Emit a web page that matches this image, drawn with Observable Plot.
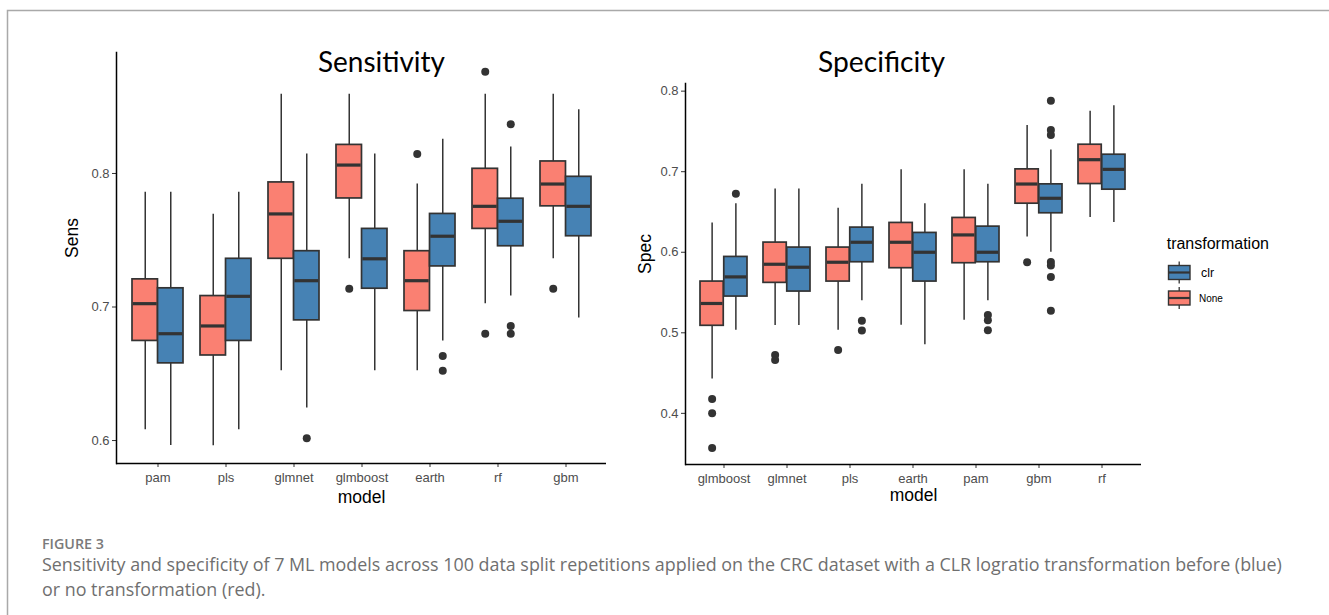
<!DOCTYPE html>
<html><head><meta charset="utf-8">
<script src="https://cdn.jsdelivr.net/npm/d3@7"></script>
<script src="https://cdn.jsdelivr.net/npm/@observablehq/plot@0.6"></script>
<style>
body{margin:0;background:#fff;}
#root{position:relative;width:1329px;height:615px;overflow:hidden;background:#fff;}
#root > svg, #root > figure{position:absolute;margin:0;}
</style></head><body><div id="root"></div>
<script>
// ---------- data ----------
// stats per box: [lower whisker, Q1, median, Q3, upper whisker]
const sensModels = ["pam","pls","glmnet","glmboost","earth","rf","gbm"];
const sensNone = [
  [0.608,0.6746,0.7025,0.7207,0.786],
  [0.596,0.6637,0.6858,0.7082,0.7694],
  [0.6522,0.7361,0.7697,0.7933,0.8593],
  [0.7361,0.7813,0.8063,0.8214,0.8593],
  [0.6522,0.697,0.7197,0.7418,0.7921],
  [0.7025,0.7585,0.7754,0.8035,0.8593],
  [0.7361,0.7754,0.7921,0.809,0.8593]
];
const sensClr = [
  [0.5963,0.6578,0.680,0.714,0.786],
  [0.608,0.6746,0.708,0.7361,0.786],
  [0.6244,0.690,0.7197,0.7418,0.8145],
  [0.6522,0.7137,0.7361,0.7585,0.8145],
  [0.6746,0.7304,0.753,0.7697,0.8257],
  [0.7082,0.7455,0.7642,0.7811,0.8199],
  [0.6918,0.753,0.7754,0.7975,0.8478]
];
const sensNoneOut = [[], [], [], [0.7137], [0.8145], [0.8761,0.680], [0.7137]];
const sensClrOut  = [[], [], [0.6018], [], [0.6634,0.6522], [0.8369,0.6858,0.680], []];
const sensTicks = [0.6,0.7,0.8];
const sensDomain = [0.5828,0.8906];

const specModels = ["glmboost","glmnet","pls","earth","pam","gbm","rf"];
const specNone = [
  [0.4426,0.5087,0.5364,0.5636,0.6364],
  [0.509,0.562,0.5851,0.612,0.6785],
  [0.5033,0.5636,0.5876,0.6058,0.6546],
  [0.5095,0.5802,0.6124,0.6364,0.7025],
  [0.5157,0.5864,0.6215,0.6426,0.7025],
  [0.619,0.6603,0.6847,0.7029,0.7575],
  [0.643,0.6847,0.7149,0.7335,0.7752]
];
const specClr = [
  [0.5033,0.545,0.5694,0.5942,0.6603],
  [0.509,0.5512,0.5814,0.6058,0.6785],
  [0.5397,0.5876,0.6124,0.6306,0.6843],
  [0.4851,0.5636,0.60,0.624,0.6603],
  [0.5397,0.5876,0.60,0.6318,0.6843],
  [0.60,0.6484,0.667,0.6843,0.7269],
  [0.6368,0.6777,0.7029,0.7211,0.7818]
];
const specNoneOut = [[0.4178,0.40,0.357], [0.4723,0.4661], [0.4786], [], [], [0.5876], []];
const specClrOut  = [[0.6727], [], [0.5149,0.5029], [], [0.522,0.5157,0.5033], [0.788,0.7517,0.7455,0.588,0.5835,0.5694,0.5273], []];
const specTicks = [0.4,0.5,0.6,0.7,0.8];
const specDomain = [0.3365,0.8095];

const transformations = ["clr","None"];
const colors = {clr:"#4682B4", None:"#FA8072"};
const titles = ["Sensitivity","Specificity"];
const yLabels = ["Sens","Spec"];
const xLabel = "model";
const legendTitle = "transformation";
const captionHead = "FIGURE 3";
const captionLines = [
  "Sensitivity and specificity of 7 ML models across 100 data split repetitions applied on the CRC dataset with a CLR logratio transformation before (blue)",
  "or no transformation (red)."
];

// ---------- drawing ----------
const root = document.getElementById("root");
const INK = "#333333";
const AXISFONT = "'Liberation Sans', Arial, Helvetica, sans-serif";

function panel(o) {
  const plotW = o.width - o.ml - o.mr;
  const step = plotW / (o.models.length + 0.2);
  const half = step * 0.75 / 2;
  const q = half / 2;
  const rows = (stats, t) => o.models.map((m, i) => ({model: m, t,
    low: stats[i][0], q1: stats[i][1], med: stats[i][2], q3: stats[i][3], high: stats[i][4]}));
  const outs = (arr, t) => o.models.flatMap((m, i) => arr[i].map(v => ({model: m, t, v})));
  const noneRows = rows(o.none, "None"), clrRows = rows(o.clr, "clr");
  const noneOut = outs(o.noneOut, "None"), clrOut = outs(o.clrOut, "clr");
  const p = Plot.plot({
    width: o.width, height: o.height,
    marginLeft: o.ml, marginRight: o.mr, marginTop: o.mt, marginBottom: o.mb,
    style: {background: "transparent", overflow: "visible", fontFamily: AXISFONT},
    x: {type: "band", domain: o.models, paddingInner: 0.25, paddingOuter: 0.225, label: null},
    y: {domain: o.domain, label: null},
    marks: [
      Plot.ruleX(noneRows, {x: "model", y1: "low", y2: "high", dx: -q, stroke: INK, strokeWidth: 1.5}),
      Plot.ruleX(clrRows, {x: "model", y1: "low", y2: "high", dx: q, stroke: INK, strokeWidth: 1.5}),
      Plot.barY(noneRows, {x: "model", y1: "q1", y2: "q3", insetRight: half, fill: colors.None, stroke: INK, strokeWidth: 1.7}),
      Plot.barY(clrRows, {x: "model", y1: "q1", y2: "q3", insetLeft: half, fill: colors.clr, stroke: INK, strokeWidth: 1.7}),
      Plot.tickY(noneRows, {x: "model", y: "med", insetRight: half + 0.8, insetLeft: 0.8, stroke: INK, strokeWidth: 3.2}),
      Plot.tickY(clrRows, {x: "model", y: "med", insetLeft: half + 0.8, insetRight: 0.8, stroke: INK, strokeWidth: 3.2}),
      Plot.dot(noneOut, {x: "model", y: "v", dx: -q, r: 4, fill: INK, stroke: null}),
      Plot.dot(clrOut, {x: "model", y: "v", dx: q, r: 4, fill: INK, stroke: null}),
      Plot.axisY({ticks: o.ticks, tickFormat: d3.format(".1f"), tickSize: 4, tickPadding: 3, fontSize: 13, stroke: INK, fill: "#4d4d4d", label: null}),
      Plot.axisX({tickSize: 4, tickPadding: 5, fontSize: 13, stroke: INK, fill: "#4d4d4d", label: null}),
      Plot.ruleY([o.domain[0]], {stroke: "#000", strokeWidth: 1.5}),
      Plot.frame({anchor: "left", stroke: "#000", strokeWidth: 1.5}),
      Plot.text([o.yLabel], {frameAnchor: "left", dx: o.ylDx, rotate: -90, fontSize: 17.5, fill: "#000"}),
      Plot.text([xLabel], {frameAnchor: "bottom", lineAnchor: "middle", dy: o.xlDy, fontSize: 17.5, fill: "#000"})
    ]
  });
  p.style.left = o.left + "px";
  p.style.top = "0px";
  root.appendChild(p);
}

panel({models: sensModels, none: sensNone, clr: sensClr, noneOut: sensNoneOut, clrOut: sensClrOut,
  domain: sensDomain, ticks: sensTicks, yLabel: yLabels[0],
  left: 0, width: 620, height: 530, ml: 116, mr: 14, mt: 52, mb: 67, ylDx: -44, xlDy: 34});
panel({models: specModels, none: specNone, clr: specClr, noneOut: specNoneOut, clrOut: specClrOut,
  domain: specDomain, ticks: specTicks, yLabel: yLabels[1],
  left: 620, width: 540, height: 530, ml: 65, mr: 19, mt: 83, mb: 66, ylDx: -40, xlDy: 31});

// overlay: frame border, titles, legend, caption
const svg = d3.select(root).append("svg")
  .attr("width", 1329).attr("height", 615)
  .style("left", "0px").style("top", "0px").style("pointer-events", "none");

svg.append("path").attr("d", "M7.5,615 V10.5 H1329").attr("fill", "none")
  .attr("stroke", "#a9a9a9").attr("stroke-width", 1.5);

function fitText(sel, target) {
  const fs = parseFloat(sel.attr("font-size"));
  const w = sel.node().getComputedTextLength();
  if (w > 0) sel.attr("font-size", (fs * target / w).toFixed(2));
}

const titleX = [381.5, 881.5];
titles.forEach((t, i) => {
  const tx = svg.append("text").attr("x", titleX[i]).attr("y", 71.5)
    .attr("text-anchor", "middle").attr("font-family", "Lato, 'Open Sans', sans-serif")
    .attr("font-size", 29).attr("fill", "#000").text(t);
  fitText(tx, 127);
});

// legend
const lg = svg.append("g").attr("font-family", AXISFONT);
lg.append("text").attr("x", 1166.7).attr("y", 249).attr("font-size", 16).attr("fill", "#000").text(legendTitle);
const keyY = {clr: 272.5, None: 298};
const labelSize = {clr: 12.3, None: 10};
const labelX = {clr: 1201, None: 1199};
transformations.forEach(t => {
  const cy = keyY[t];
  const k = lg.append("g");
  k.append("line").attr("x1", 1179.2).attr("x2", 1179.2).attr("y1", cy - 11).attr("y2", cy + 11)
    .attr("stroke", INK).attr("stroke-width", 1.3);
  k.append("rect").attr("x", 1168.5).attr("y", cy - 7).attr("width", 21.5).attr("height", 14)
    .attr("fill", colors[t]).attr("stroke", INK).attr("stroke-width", 1.4);
  k.append("line").attr("x1", 1168.5).attr("x2", 1190).attr("y1", cy).attr("y2", cy)
    .attr("stroke", INK).attr("stroke-width", 2.2);
  lg.append("text").attr("x", labelX[t]).attr("y", cy + 0.5).attr("dy", "0.35em")
    .attr("font-size", labelSize[t]).attr("fill", "#000").text(t);
});

// caption
const head = svg.append("text").attr("x", 42).attr("y", 548.5)
  .attr("font-family", "'Open Sans', sans-serif").attr("font-weight", 600)
  .attr("font-size", 13.5).attr("fill", "#7a7a7a").text(captionHead);
fitText(head, 62);
const capY = [571, 596];
const capNodes = captionLines.map((line, i) => svg.append("text").attr("x", 42).attr("y", capY[i])
  .attr("font-family", "'Open Sans', sans-serif").attr("font-size", 17)
  .attr("fill", "#6f6f6f").text(line));
fitText(capNodes[0], 1241);
capNodes[1].attr("font-size", capNodes[0].attr("font-size"));
</script>
</body></html>
